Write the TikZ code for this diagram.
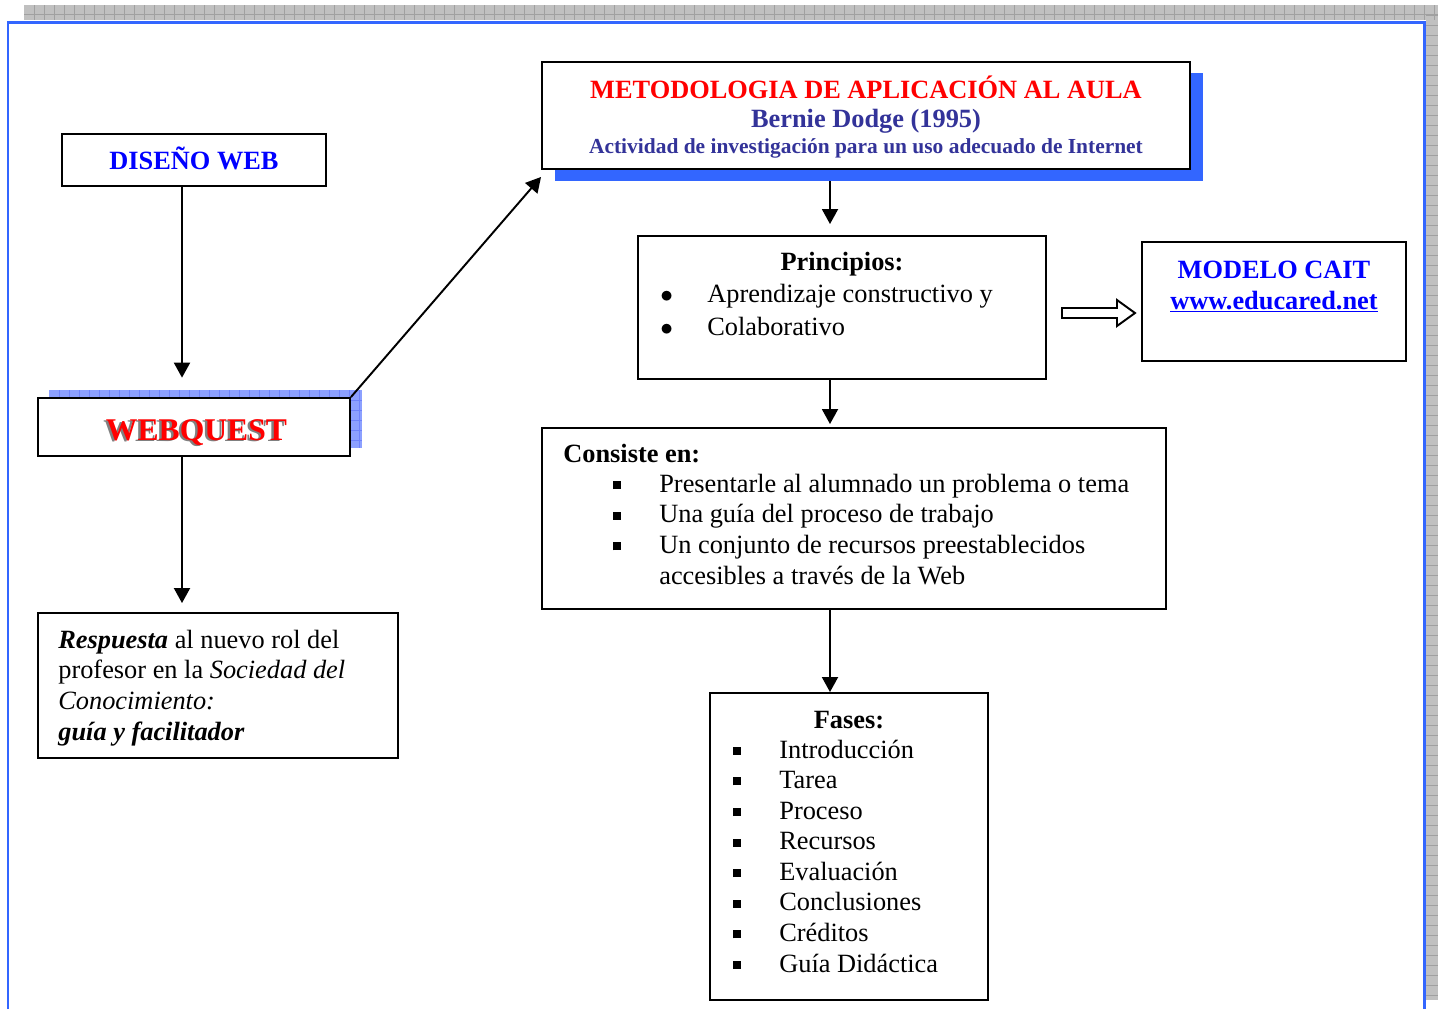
\documentclass[tikz,border=0pt]{standalone}
\usepackage{fontspec}
\setmainfont{Liberation Serif}
\usetikzlibrary{calc,fit,arrows.meta}

\definecolor{frameblue}{RGB}{51,102,255}
\definecolor{titlered}{RGB}{255,0,0}
\definecolor{darkblue}{RGB}{51,51,153}
\definecolor{linkblue}{RGB}{0,0,255}
\definecolor{stripgray}{RGB}{192,192,192}
\definecolor{gridgray}{RGB}{160,160,160}
\definecolor{lightblue}{RGB}{140,160,255}
\definecolor{gridblue}{RGB}{110,130,250}

\newcommand{\bodyfont}{\fontsize{15}{17.4}\selectfont}
\newcommand{\sqbullet}{\makebox[0.92cm][l]{\rule[0.12em]{0.16cm}{0.16cm}}}
\newcommand{\rdbullet}{\makebox[0.94cm][l]{$\bullet$}}

\begin{document}
\begin{tikzpicture}[
		x={(0.02cm,0cm)},
		y={(0cm,-0.02cm)},
		box/.style={draw, line width=1.1pt, inner sep=0pt},
		arr/.style={line width=1.1pt, -{Triangle[length=0.3cm,width=0.32cm]}},
		txt/.style={inner sep=0pt, align=left, anchor=base west, font=\bodyfont}
	]
		\useasboundingbox (0,0) rectangle (1438,1009);

		% page frame
		\fill[stripgray] (24,5) rectangle (1438,20);
		\fill[stripgray] (1426,5) rectangle (1438,1000);
		\foreach \x in {34,44,...,1434}
			\draw[gridgray, line width=0.4pt] (\x,5) -- (\x,20);
		\foreach \y in {15,25,...,995}
			\draw[gridgray, line width=0.4pt] (1426,\y) -- (1438,\y);
		\draw[gridgray, line width=0.4pt] (24,14) -- (1438,14);
		\draw[frameblue, line width=1.7pt] (8,1009) -- (8,22) -- (1424.5,22) -- (1424.5,1009);

		% spines for the vertical arrows
		\coordinate (lspine) at (182,0);
		\coordinate (rspine) at (830,0);

		% diseno web
		\node[box, fit={(62,134) (326,186)}] (dis) {};
		\node[font=\fontsize{15}{18}\selectfont\bfseries, text=linkblue, anchor=base] (distxt) at (194,169) {DISEÑO WEB};

		% webquest with its shadow
		\node[fill=lightblue, inner sep=0pt, fit={(49,390) (362,448)}] (wqsh) {};
		\foreach \x in {59,69,...,359}
			\draw[gridblue, line width=0.4pt] (\x,390) -- (\x,448);
		\foreach \y in {400,410,...,440}
			\draw[gridblue, line width=0.4pt] (49,\y) -- (362,\y);
		\node[box, fill=white, fit={(38,398) (350,456)}] (wq) {};
		\node[font=\fontsize{18}{22}\selectfont\bfseries, text=gray, anchor=base] (wqgray) at (194,441.5) {WEBQUEST};
		\node[font=\fontsize{18}{22}\selectfont\bfseries, text=titlered, anchor=base] (wqtxt) at (196.5,440) {WEBQUEST};

		% respuesta (last line sets the base)
		\node[box, fit={(38,613) (398,758)}] (res) {};
		\node[txt] (restxt) at (58,740) {\textbf{\textit{Respuesta}} al nuevo rol del\\
			profesor en la \textit{Sociedad del}\\
			\textit{Conocimiento:}\\
			\textbf{\textit{guía y facilitador}}};

		% title with its shadow
		\node[fill=frameblue, inner sep=0pt, fit={(555,73) (1203,181)}] (titsh) {};
		\node[box, fill=white, fit={(542,62) (1190,169)}] (tit) {};
		\node[font=\fontsize{15}{18}\selectfont\bfseries, text=titlered, anchor=base] (tit1) at (866,98) {METODOLOGIA DE APLICACIÓN AL AULA};
		\node[font=\fontsize{15}{18}\selectfont\bfseries, text=darkblue, anchor=base] (tit2) at (866,127) {Bernie Dodge (1995)};
		\node[font=\fontsize{12.2}{15}\selectfont\bfseries, text=darkblue, anchor=base] (tit3) at (866,153) {Actividad de investigación para un uso adecuado de Internet};

		% principios
		\node[box, fit={(638,236) (1046,379)}] (pri) {};
		\node[font=\bodyfont\bfseries, anchor=base, inner sep=0pt] (pritit) at (842,270) {Principios:};
		\node[txt, font=\fontsize{15}{18.7}\selectfont] (prilst) at (660,335) {\rdbullet Aprendizaje constructivo y\\
			\rdbullet Colaborativo};

		% modelo cait
		\draw[line width=1.1pt, fill=white] (1062,308) -- (1117,308) -- (1117,300) -- (1135,313)
			-- (1117,326) -- (1117,318) -- (1062,318) -- cycle;
		\node[box, fit={(1142,242) (1406,361)}] (cait) {};
		\node[font=\fontsize{15}{18}\selectfont\bfseries, text=linkblue, anchor=base] (cait1) at (1274,278) {MODELO CAIT};
		\node[font=\fontsize{15}{18}\selectfont\bfseries, text=linkblue, anchor=base] (cait2) at (1274,309) {\underline{www.educared.net}};

		% consiste en
		\node[box, fit={(542,428) (1166,609)}] (con) {};
		\node[txt, font=\bodyfont\bfseries] (contit) at (563,462) {Consiste en:};
		\node[txt] (conlst) at (613,584) {\sqbullet Presentarle al alumnado un problema o tema\\
			\sqbullet Una guía del proceso de trabajo\\
			\sqbullet Un conjunto de recursos preestablecidos\\
			\hspace*{0.92cm}accesibles a través de la Web};

		% fases
		\node[box, fit={(710,693) (988,1000)}] (fas) {};
		\node[font=\bodyfont\bfseries, anchor=base, inner sep=0pt] (fastit) at (849,728) {Fases:};
		\node[txt] (faslst) at (733,972) {\sqbullet Introducción\\
			\sqbullet Tarea\\
			\sqbullet Proceso\\
			\sqbullet Recursos\\
			\sqbullet Evaluación\\
			\sqbullet Conclusiones\\
			\sqbullet Créditos\\
			\sqbullet Guía Didáctica};

		% arrows
		\draw[arr, shorten >=0.24cm] (dis.south -| lspine) -- (wqsh.north -| lspine);
		\draw[arr, shorten >=0.18cm] (wq.south -| lspine) -- (res.north -| lspine);
		\draw[arr] (wq.north east) -- ($(tit.south west)+(0,7)$);
		\draw[arr, shorten >=0.22cm] (titsh.south -| rspine) -- (pri.north -| rspine);
		\draw[arr, shorten >=0.06cm] (pri.south -| rspine) -- (con.north -| rspine);
		\draw[arr] (con.south -| rspine) -- (fas.north -| rspine);

	\end{tikzpicture}
\end{document}
